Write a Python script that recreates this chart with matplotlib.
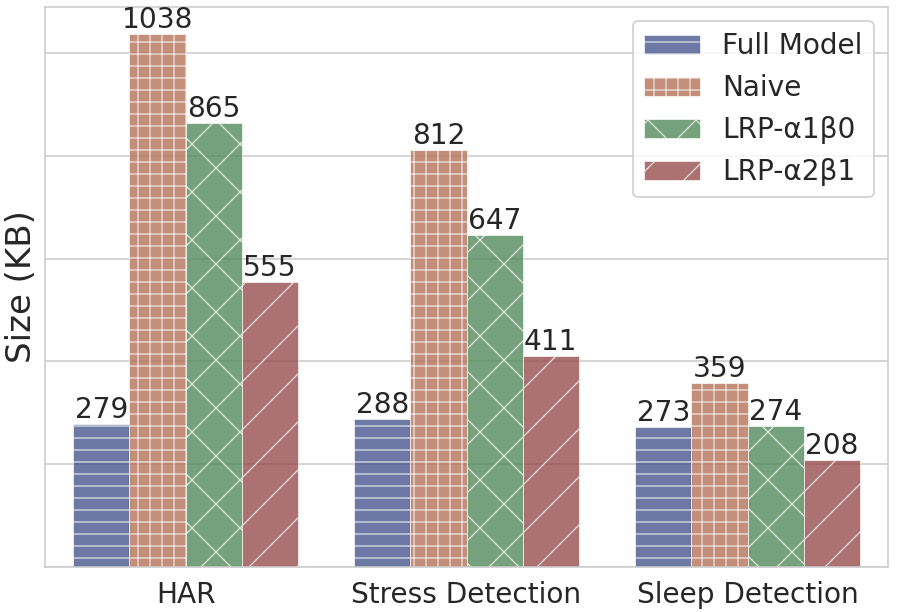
import matplotlib
matplotlib.use("Agg")
import matplotlib.pyplot as plt
import numpy as np
import seaborn as sns

# Data
categories = ["HAR", "Stress Detection", "Sleep Detection"]
methods = ["Full Model", "Naive", "LRP-\u03b11\u03b20", "LRP-\u03b12\u03b21"]
full_model = [279, 288, 273]
naive = [1038, 812, 359]
lrp_a1b0 = [865, 647, 274]
lrp_a2b1 = [555, 411, 208]

sns.set_style("whitegrid")
plt.rcParams["font.family"] = ["DejaVu Sans"]
plt.rcParams["hatch.color"] = "white"
plt.rcParams["hatch.linewidth"] = 0.6

colors = ["#46578E", "#B57259", "#528B5B", "#984D4D"]
hatches = ["--", "++", "x", "/"]
series = [full_model, naive, lrp_a1b0, lrp_a2b1]

dpi = 144
fig = plt.figure(figsize=(897 / dpi, 612 / dpi), dpi=dpi)
ax = fig.add_axes([0.0502, 0.0735, 0.9398, 0.9151])

x = np.arange(len(categories))
width = 0.2
for i, (vals, name) in enumerate(zip(series, methods)):
    bars = ax.bar(x - 0.3 + i * width, vals, width, label=name, color=colors[i],
                  alpha=0.8, hatch=hatches[i], edgecolor="white", linewidth=0.4)
    ax.bar_label(bars, labels=[str(v) for v in vals], fontsize=14, padding=0)

ax.set_xlim(-0.5, 2.5)
ax.set_ylim(0, max(naive) * 1.05)
ax.set_xticks(x)
ax.set_xticklabels(categories, fontsize=14)
ax.set_yticks([0, 200, 400, 600, 800, 1000])
ax.set_yticklabels([])
ax.grid(axis="x", visible=False)
ax.set_ylabel("Size (KB)", fontsize=17)
ax.yaxis.set_label_coords(-7 / 843, 0.5)
ax.legend(loc="upper right", fontsize=14)

fig.savefig("out.png", dpi=dpi)
